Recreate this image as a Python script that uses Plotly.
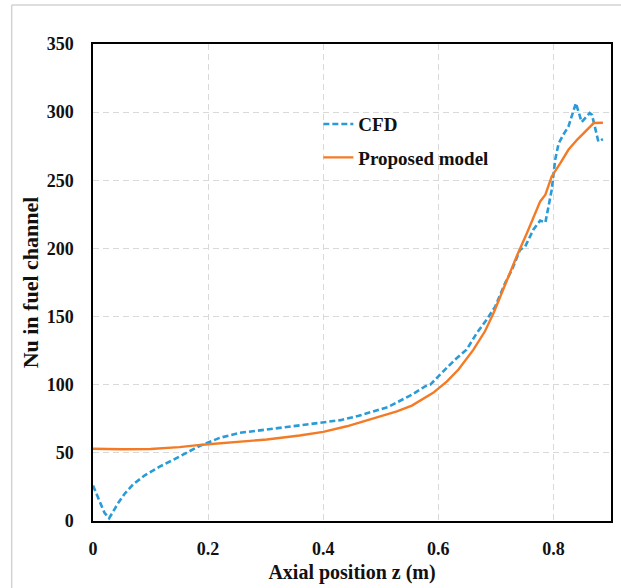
import plotly.graph_objects as go

# Axial position (m) and Nusselt number along the fuel channel
z_cfd = [0.000, 0.010, 0.020, 0.028, 0.035, 0.045, 0.055, 0.070, 0.090, 0.115,
         0.140, 0.160, 0.185, 0.220, 0.255, 0.300, 0.350, 0.395, 0.430, 0.460,
         0.490, 0.513, 0.528, 0.554, 0.577, 0.586, 0.603, 0.629, 0.649, 0.667,
         0.684, 0.699, 0.716, 0.728, 0.742, 0.751, 0.765, 0.777, 0.786, 0.797,
         0.803, 0.809, 0.817, 0.826, 0.839, 0.849, 0.863, 0.867, 0.878, 0.886]
nu_cfd = [26.0, 16.0, 6.0, 2.0, 7.0, 14.0, 20.0, 27.0, 33.5, 39.7,
          45.0, 49.5, 55.0, 61.0, 64.7, 67.0, 69.8, 72.0, 74.0, 77.0,
          80.5, 83.7, 87.0, 92.7, 98.8, 100.0, 107.4, 118.4, 125.7, 138.0,
          147.7, 157.5, 174.6, 184.4, 199.0, 201.5, 213.7, 220.5, 219.0, 243.0,
          265.0, 277.0, 283.4, 289.4, 306.6, 292.7, 299.3, 298.0, 278.5, 280.2]

z_model = [0.000, 0.050, 0.100, 0.150, 0.190, 0.243, 0.302, 0.359, 0.400, 0.441,
           0.470, 0.499, 0.528, 0.554, 0.574, 0.591, 0.615, 0.635, 0.661, 0.681,
           0.696, 0.719, 0.736, 0.754, 0.777, 0.786, 0.797, 0.812, 0.826, 0.841,
           0.855, 0.870, 0.886]
nu_model = [53.0, 52.6, 52.8, 54.2, 56.0, 57.8, 59.8, 62.7, 65.4, 69.5,
            73.2, 76.8, 80.5, 84.7, 89.6, 94.0, 102.5, 111.1, 125.7, 139.2,
            152.6, 177.0, 194.1, 211.3, 234.5, 239.4, 252.8, 262.6, 272.4, 279.7,
            285.8, 292.0, 292.2]

x_ticks = [0, 0.2, 0.4, 0.6, 0.8]
x_tick_text = ["0", "0.2", "0.4", "0.6", "0.8"]
y_ticks = [0, 50, 100, 150, 200, 250, 300, 350]

FONT = "Liberation Serif, Times New Roman, serif"
BLUE = "#2A9BD7"
ORANGE = "#F47A26"

fig = go.Figure()
fig.add_trace(go.Scatter(
    x=z_cfd, y=nu_cfd, mode="lines", name="CFD",
    line=dict(color=BLUE, width=2.6, dash="6px,3px"),
    legend="legend",
))
fig.add_trace(go.Scatter(
    x=z_model, y=nu_model, mode="lines", name="Proposed model",
    line=dict(color=ORANGE, width=2.4),
    legend="legend2",
))

legend_common = dict(
    bgcolor="rgba(0,0,0,0)",
    font=dict(family=FONT, size=19, color="#111111", weight="bold"),
    xanchor="left", yanchor="middle",
)

fig.update_layout(
    width=621, height=588,
    margin=dict(l=93, r=10, t=44, b=67),
    paper_bgcolor="white", plot_bgcolor="white",
    font=dict(family=FONT, color="#111111"),
    showlegend=True,
    legend=dict(x=0.435, y=0.832, **legend_common),
    legend2=dict(x=0.435, y=0.762, **legend_common),
    xaxis=dict(
        range=[0, 0.9], tickvals=x_ticks, ticktext=x_tick_text,
        showgrid=True, gridcolor="#D9D9D9", griddash="6px,4px", gridwidth=1,
        showline=True, linecolor="black", linewidth=1.5, mirror=True,
        ticks="", zeroline=False, ticklabelstandoff=11, automargin=False,
        tickfont=dict(family=FONT, size=18, color="#111111", weight="bold"),
        title=dict(text="Axial position z (m)", standoff=7,
                   font=dict(family=FONT, size=20, color="#111111", weight="bold")),
    ),
    yaxis=dict(
        range=[0, 350], tickvals=y_ticks,
        showgrid=True, gridcolor="#D9D9D9", griddash="6px,4px", gridwidth=1,
        showline=True, linecolor="black", linewidth=1.5, mirror=True,
        ticks="", zeroline=False, ticklabelstandoff=14, automargin=False,
        tickfont=dict(family=FONT, size=18, color="#111111", weight="bold"),
        title=dict(text="Nu in fuel channel", standoff=2,
                   font=dict(family=FONT, size=22, color="#111111", weight="bold")),
    ),
    shapes=[
        # light frame around the chart area
        dict(type="line", xref="paper", yref="paper", x0=-0.157, x1=1.1,
             y0=1.082, y1=1.082, line=dict(color="#D3D3D3", width=1.5)),
        dict(type="line", xref="paper", yref="paper", x0=-0.157, x1=-0.157,
             y0=-0.2, y1=1.082, line=dict(color="#D3D3D3", width=1.5)),
    ],
)

fig.write_html("out.html")
